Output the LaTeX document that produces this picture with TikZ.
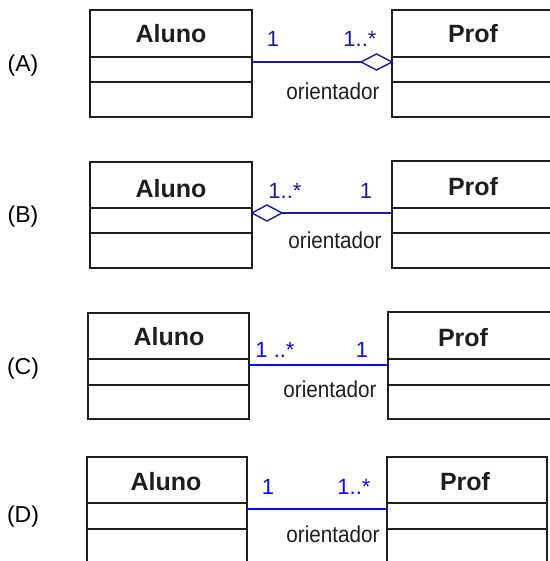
\documentclass[tikz,border=0pt]{standalone}
\usepackage{fontspec}
\setmainfont{Liberation Sans}
\usetikzlibrary{shapes.geometric}
\definecolor{navyline}{RGB}{28,28,150}
\definecolor{brightblue}{RGB}{10,10,245}
\definecolor{boxline}{RGB}{30,30,30}
\tikzset{
  classbox/.style={draw=boxline, line width=1.6pt, inner sep=0pt, outer sep=0pt, anchor=north west},
  divline/.style={draw=boxline, line width=1.6pt},
  classtitle/.style={font=\fontsize{25}{28}\selectfont\bfseries, anchor=base, inner sep=0pt, text=boxline},
  mult/.style={font=\fontsize{22}{26}\selectfont, anchor=base, inner sep=0pt},
  rolename/.style={font=\fontsize{23}{26}\selectfont, anchor=base, inner sep=0pt, text=boxline},
  rowlabel/.style={font=\fontsize{23}{26}\selectfont, anchor=base, inner sep=0pt},
  assoc/.style={line width=1.4pt},
  aggdiamond/.style={diamond, draw=navyline, fill=white, line width=1.4pt, inner sep=0pt, outer sep=0pt}
}
\begin{document}
\begin{tikzpicture}[x=1pt,y=-1pt]
\useasboundingbox (0,0) rectangle (549,561);

% ---------- (A) ----------
\node[rowlabel] (labA) at (23,72) {(A)};
\node[classbox, minimum width=162pt, minimum height=107pt] (alunoA) at (90,10) {};
\draw[divline] (90,57) -- (252,57);
\draw[divline] (90,82) -- (252,82);
\node[classtitle] (talunoA) at (171,43) {Aluno};
\node[classbox, minimum width=159pt, minimum height=107pt] (profA) at (392,10) {};
\draw[divline] (392,57) -- (551,57);
\draw[divline] (392,82) -- (551,82);
\node[classtitle] (tprofA) at (473,43) {Prof};
\coordinate (aA) at (252,62);
\node[aggdiamond, minimum width=31pt, minimum height=16pt] (dA) at (376.5,62) {};
\draw[assoc, navyline] (aA) -- (dA.west);
\node[mult, text=navyline] (m1A) at (273,47) {1};
\node[mult, text=navyline] (m2A) at (360,47) {1..*};
\node[rolename] (rA) at (333,100) {\scalebox{0.9}[1]{orientador}};

% ---------- (B) ----------
\node[rowlabel] (labB) at (23,222) {(B)};
\node[classbox, minimum width=162pt, minimum height=106pt] (alunoB) at (90,162) {};
\draw[divline] (90,208) -- (252,208);
\draw[divline] (90,233) -- (252,233);
\node[classtitle] (talunoB) at (171,197) {Aluno};
\node[classbox, minimum width=159pt, minimum height=107pt] (profB) at (392,161) {};
\draw[divline] (392,208) -- (551,208);
\draw[divline] (392,233) -- (551,233);
\node[classtitle] (tprofB) at (473,196) {Prof};
\coordinate (pB) at (392,213);
\node[aggdiamond, minimum width=30pt, minimum height=16pt] (dB) at (267,213) {};
\draw[assoc, navyline] (dB.east) -- (pB);
\node[mult, text=navyline] (m1B) at (285,198) {1..*};
\node[mult, text=navyline] (m2B) at (366,198) {1};
\node[rolename] (rB) at (335,248) {\scalebox{0.9}[1]{orientador}};

% ---------- (C) ----------
\node[rowlabel] (labC) at (23,374) {(C)};
\node[classbox, minimum width=161pt, minimum height=106pt] (alunoC) at (88,313) {};
\draw[divline] (88,359) -- (249,359);
\draw[divline] (88,385) -- (249,385);
\node[classtitle] (talunoC) at (169,345) {Aluno};
\node[classbox, minimum width=163pt, minimum height=107pt] (profC) at (388,312) {};
\draw[divline] (388,359) -- (551,359);
\draw[divline] (388,385) -- (551,385);
\node[classtitle] (tprofC) at (463,346) {Prof};
\coordinate (aC) at (249,365);
\coordinate (pC) at (388,365);
\draw[assoc, brightblue] (aC) -- (pC);
\node[mult, text=brightblue] (m1C) at (275,357) {1 ..*};
\node[mult, text=brightblue] (m2C) at (362,357) {1};
\node[rolename] (rC) at (330,397) {\scalebox{0.9}[1]{orientador}};

% ---------- (D) ----------
\node[rowlabel] (labD) at (23,522) {(D)};
\node[classbox, minimum width=160pt, minimum height=120pt] (alunoD) at (87,457) {};
\draw[divline] (87,503) -- (247,503);
\draw[divline] (87,529) -- (247,529);
\node[classtitle] (talunoD) at (166,490) {Aluno};
\node[classbox, minimum width=160pt, minimum height=120pt] (profD) at (387,457) {};
\draw[divline] (387,503) -- (547,503);
\draw[divline] (387,529) -- (547,529);
\node[classtitle] (tprofD) at (465,490) {Prof};
\coordinate (aD) at (247,509);
\coordinate (pD) at (387,509);
\draw[assoc, brightblue] (aD) -- (pD);
\node[mult, text=brightblue] (m1D) at (268,494) {1};
\node[mult, text=brightblue] (m2D) at (354,494) {1..*};
\node[rolename] (rD) at (333,542) {\scalebox{0.9}[1]{orientador}};
\end{tikzpicture}
\end{document}
